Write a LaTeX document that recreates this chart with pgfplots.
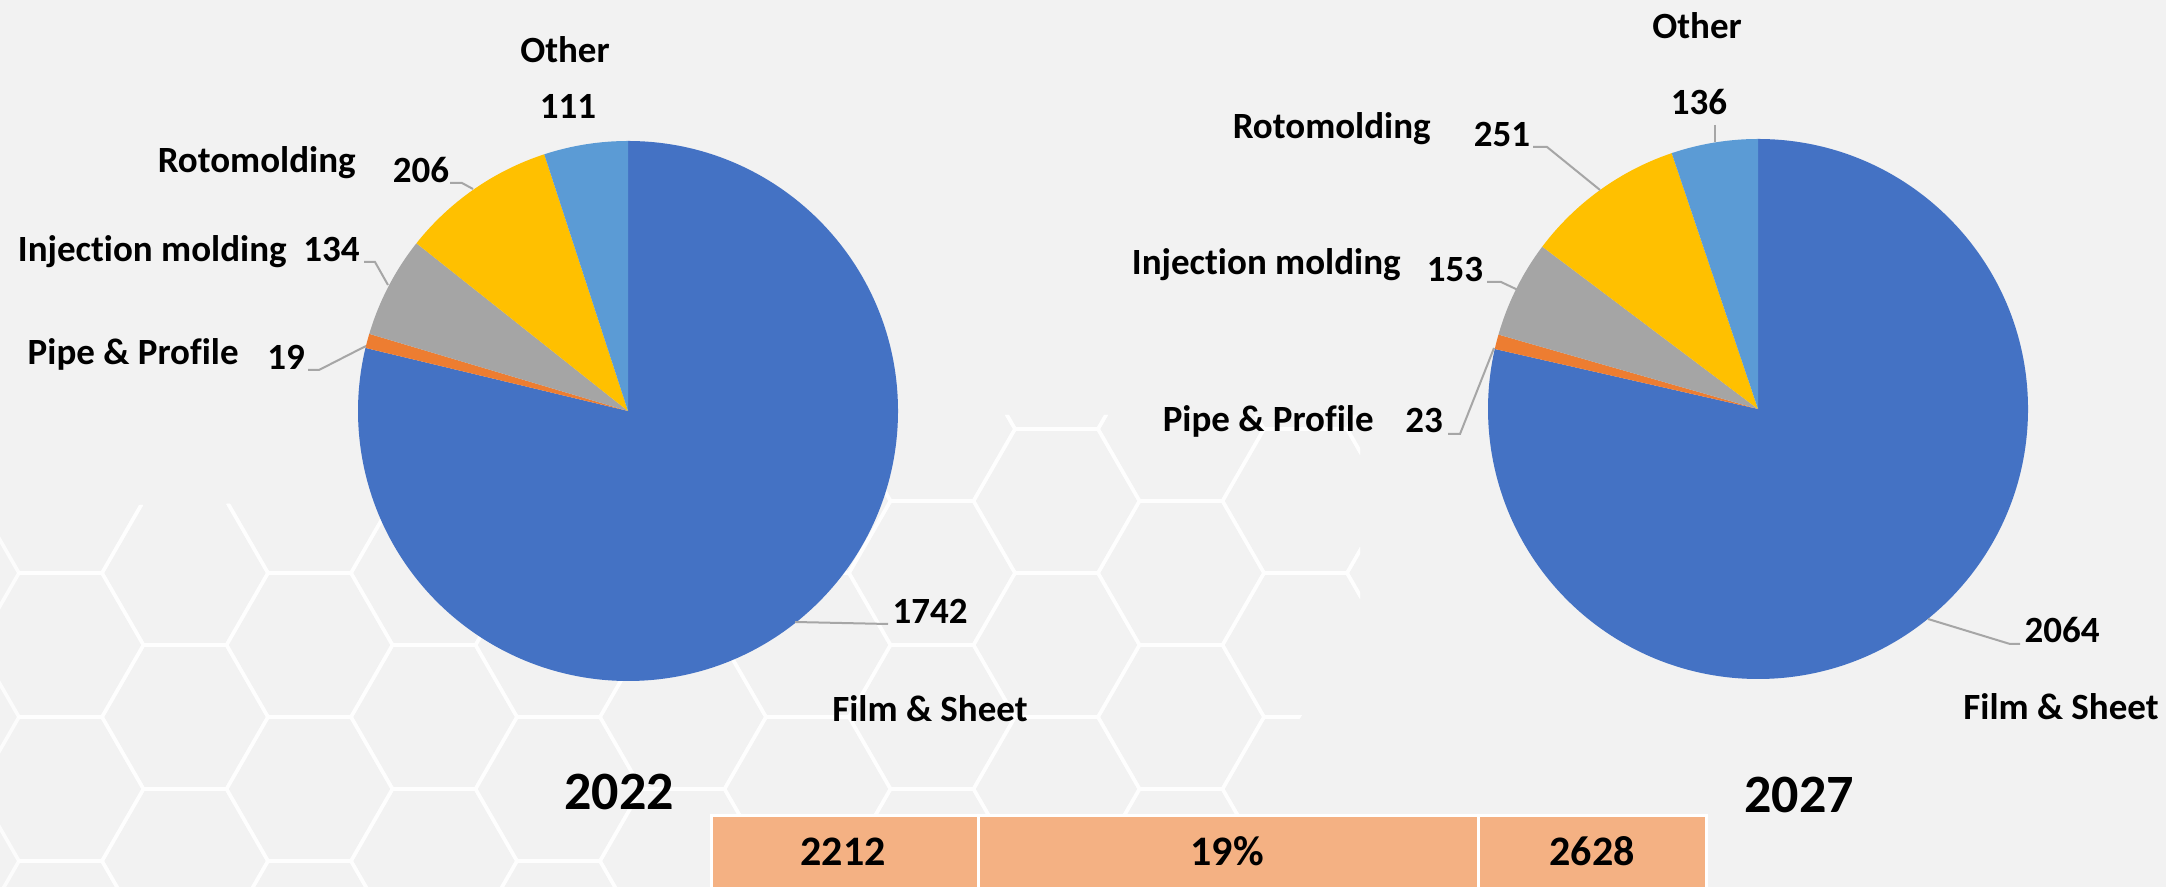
\documentclass[border=0pt]{standalone}
\usepackage{pgfplots}
\pgfplotsset{compat=1.18}
\usepackage{pgfplotstable}
\usepackage{fontspec}
\setmainfont[Ligatures=NoCommon]{Carlito}
\definecolor{bg}{HTML}{F2F2F2}
\definecolor{pc0}{HTML}{4472C4}
\definecolor{pc1}{HTML}{ED7D31}
\definecolor{pc2}{HTML}{A5A5A5}
\definecolor{pc3}{HTML}{FFC000}
\definecolor{pc4}{HTML}{5B9BD5}
\definecolor{tabc}{HTML}{F4B183}
\definecolor{lead}{HTML}{A6A6A6}

% 2022 values
\pgfplotstableread{
cat val
Film 1742
Pipe 19
Injection 134
Roto 206
Other 111
}\dataA
% 2027 values
\pgfplotstableread{
cat val
Film 2064
Pipe 23
Injection 153
Roto 251
Other 136
}\dataB

\newcommand\prepare[2]{%
  \gdef\tot{0}%
  \pgfplotsforeachungrouped \i in {0,...,4}{%
    \pgfplotstablegetelem{\i}{val}\of{#1}%
    \pgfmathparse{\tot+\pgfplotsretval}\xdef\tot{\pgfmathresult}}%
  \gdef\cum{0}%
  \pgfplotsforeachungrouped \i in {0,...,4}{%
    \pgfplotstablegetelem{\i}{val}\of{#1}%
    \pgfmathparse{90-360*(\cum/\tot)}%
    \expandafter\xdef\csname #2s\i\endcsname{\pgfmathresult}%
    \pgfmathparse{\cum+\pgfplotsretval}\xdef\cum{\pgfmathresult}%
    \pgfmathparse{90-360*(\cum/\tot)}%
    \expandafter\xdef\csname #2e\i\endcsname{\pgfmathresult}}%
}

\begin{document}
\prepare{\dataA}{A}\prepare{\dataB}{B}%
\begin{tikzpicture}[x=0.5pt,y=0.5pt,font=\bfseries\fontsize{18.5}{21}\selectfont]
\useasboundingbox (0,0) rectangle (2166,887);
\fill[bg] (0,0) rectangle (2166,887);
% faint hexagon background pattern
\begin{scope}
\clip (0,380) -- (700,390) -- (960,417) -- (1000,472) -- (1360,472) -- (1360,267) -- (1250,87) -- (1250,0) -- (0,0) -- cycle;
\foreach \i in {0,...,11}{\foreach \j in {-1,...,4}{%
  \pgfmathsetmacro\cx{60.5+124.5*\i}%
  \pgfmathsetmacro\cy{386-144*\j-72*mod(\i,2)}%
  \draw[white,opacity=0.8,line width=1.8pt,line join=round] (\cx+83,\cy) -- ++(-41.5,72) -- ++(-83,0) -- ++(-41.5,-72) -- ++(41.5,-72) -- ++(83,0) -- cycle;
}}
\end{scope}
\begin{axis}[at={(0,0)},anchor=south west,x=0.5pt,y=0.5pt,
  xmin=0,xmax=2166,ymin=0,ymax=887,hide axis,clip=false]
\pgfplotsinvokeforeach{0,...,4}{%
  \fill[pc#1] (axis cs:628,476) -- ++(\csname As#1\endcsname:135pt)
     arc[start angle=\csname As#1\endcsname,end angle=\csname Ae#1\endcsname,radius=135pt] -- cycle;
  \fill[pc#1] (axis cs:1758,478) -- ++(\csname Bs#1\endcsname:135pt)
     arc[start angle=\csname Bs#1\endcsname,end angle=\csname Be#1\endcsname,radius=135pt] -- cycle;
}
% leader lines 2022
\draw[lead,line width=1pt] (axis cs:450,704) -- (axis cs:462,704) -- (axis cs:473,698);
\draw[lead,line width=1pt] (axis cs:364,625) -- (axis cs:375,625) -- (axis cs:388,602);
\draw[lead,line width=1pt] (axis cs:308,517) -- (axis cs:319,517) -- (axis cs:366,541);
\draw[lead,line width=1pt] (axis cs:795,265) -- (axis cs:888,263);
% leader lines 2027
\draw[lead,line width=1pt] (axis cs:1715,762) -- (axis cs:1715,745);
\draw[lead,line width=1pt] (axis cs:1533,740) -- (axis cs:1547,740) -- (axis cs:1600,697);
\draw[lead,line width=1pt] (axis cs:1487,605) -- (axis cs:1501,605) -- (axis cs:1518,597);
\draw[lead,line width=1pt] (axis cs:1448,453) -- (axis cs:1460,453) -- (axis cs:1494,539);
\draw[lead,line width=1pt] (axis cs:1928,268) -- (axis cs:2010,243) -- (axis cs:2020,243);
% labels 2022
\node[inner sep=0,anchor=base] at (axis cs:565,824) {Other};
\node[inner sep=0,anchor=base] at (axis cs:568,768) {111};
\node[inner sep=0,anchor=base east] at (axis cs:356,714) {Rotomolding};
\node[inner sep=0,anchor=base] at (axis cs:421,704) {206};
\node[inner sep=0,anchor=base east] at (axis cs:287,625) {Injection molding};
\node[inner sep=0,anchor=base west] at (axis cs:303,625) {134};
\node[inner sep=0,anchor=base east] at (axis cs:239,522) {Pipe \& Profile};
\node[inner sep=0,anchor=base west] at (axis cs:267,517) {19};
\node[inner sep=0,anchor=base] at (axis cs:930,263) {1742};
\node[inner sep=0,anchor=base] at (axis cs:930,165) {Film \& Sheet};
\node[inner sep=0,anchor=base,font=\bfseries\fontsize{27}{30}\selectfont] at (axis cs:619,77) {2022};
% labels 2027
\node[inner sep=0,anchor=base] at (axis cs:1697,848) {Other};
\node[inner sep=0,anchor=base] at (axis cs:1699,772) {136};
\node[inner sep=0,anchor=base east] at (axis cs:1431,748) {Rotomolding};
\node[inner sep=0,anchor=base] at (axis cs:1502,740) {251};
\node[inner sep=0,anchor=base east] at (axis cs:1401,612) {Injection molding};
\node[inner sep=0,anchor=base] at (axis cs:1455,605) {153};
\node[inner sep=0,anchor=base east] at (axis cs:1374,455) {Pipe \& Profile};
\node[inner sep=0,anchor=base] at (axis cs:1424,454) {23};
\node[inner sep=0,anchor=base] at (axis cs:2062,244) {2064};
\node[inner sep=0,anchor=base] at (axis cs:2061,167) {Film \& Sheet};
\node[inner sep=0,anchor=base,font=\bfseries\fontsize{27}{30}\selectfont] at (axis cs:1799,74) {2027};
% summary table
\fill[tabc] (axis cs:711,-5) rectangle (axis cs:1706,71);
\draw[white,line width=1.5pt] (axis cs:711,-5) -- (axis cs:711,71) -- (axis cs:1706,71) -- (axis cs:1706,-5);
\draw[white,line width=1.5pt] (axis cs:978,-5) -- (axis cs:978,71);
\draw[white,line width=1.5pt] (axis cs:1478,-5) -- (axis cs:1478,71);
\node[inner sep=0,anchor=base,font=\bfseries\fontsize{21}{24}\selectfont] at (axis cs:843,21) {2212};
\node[inner sep=0,anchor=base,font=\bfseries\fontsize{21}{24}\selectfont] at (axis cs:1227,21) {19\%};
\node[inner sep=0,anchor=base,font=\bfseries\fontsize{21}{24}\selectfont] at (axis cs:1592,21) {2628};
\end{axis}
\end{tikzpicture}
\end{document}
